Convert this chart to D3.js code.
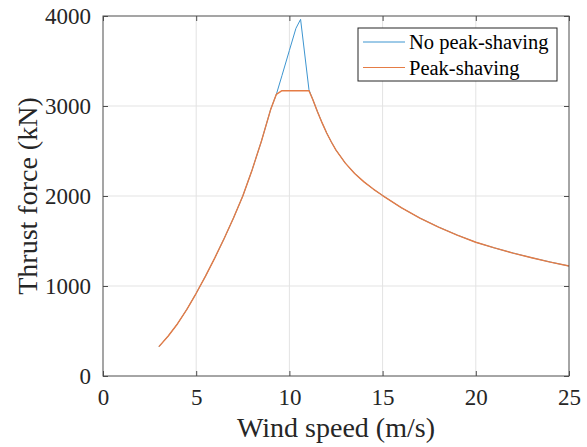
<!DOCTYPE html>
<html>
<head>
<meta charset="utf-8">
<script src="https://cdn.jsdelivr.net/npm/d3@7"></script>
<style>
  html, body { margin: 0; padding: 0; background: #fff; }
  svg { display: block; }
</style>
</head>
<body>
<svg id="thrust-plot"></svg>
<script>
// Wind speed samples (m/s)
const windSpeed = [3, 3.5, 4, 4.5, 5, 5.5, 6, 6.5, 7, 7.5, 8, 8.5, 9, 9.3, 9.6, 10, 10.35, 10.6,
  11.05, 11.25, 11.5, 11.75, 12, 12.25, 12.5, 13, 13.5, 14, 14.5, 15, 16, 17, 18, 19, 20, 21, 22, 23, 24, 25];

// Thrust force (kN) without peak-shaving
const noPeakShaving = [326, 444, 581, 741, 919, 1110, 1313, 1528, 1755, 2000, 2290, 2610, 2965, 3130,
  3337, 3618, 3863, 3963, 3180, 3075, 2940, 2815, 2700, 2600, 2510, 2365, 2250, 2157, 2077, 2005,
  1870, 1755, 1655, 1566, 1486, 1423, 1366, 1314, 1266, 1222];

// Thrust force (kN) with peak-shaving
const peakShaving = [326, 444, 581, 741, 919, 1110, 1313, 1528, 1755, 2000, 2290, 2610, 2965, 3130,
  3170, 3170, 3170, 3170, 3170, 3075, 2940, 2815, 2700, 2600, 2510, 2365, 2250, 2157, 2077, 2005,
  1870, 1755, 1655, 1566, 1486, 1423, 1366, 1314, 1266, 1222];

const xTicks = [0, 5, 10, 15, 20, 25];
const yTicks = [0, 1000, 2000, 3000, 4000];

const seriesNames = ['No peak-shaving', 'Peak-shaving'];
const seriesColors = ['#3d95d0', '#e57c45'];
const seriesWidths = [1, 1.4];

// Figure size and axes box
const width = 587;
const height = 447;
const margin = { top: 16, right: 18, bottom: 71, left: 103 };
const plotWidth = width - margin.left - margin.right;
const plotHeight = height - margin.top - margin.bottom;
const serif = '"Liberation Serif"';

const xScale = d3.scaleLinear().domain([0, 25]).range([0, plotWidth]);
const yScale = d3.scaleLinear().domain([0, 4000]).range([plotHeight, 0]);

const svg = d3.select('#thrust-plot')
  .attr('width', width)
  .attr('height', height);

svg.append('rect')
  .attr('width', width)
  .attr('height', height)
  .attr('fill', '#fff');

const plot = svg.append('g')
  .attr('transform', `translate(${margin.left}, ${margin.top})`);

// Grid lines
plot.append('g')
  .selectAll('line')
  .data(xTicks.slice(1, -1))
  .join('line')
  .attr('x1', (d) => xScale(d))
  .attr('x2', (d) => xScale(d))
  .attr('y1', 0)
  .attr('y2', plotHeight)
  .attr('stroke', '#e3e3e3')
  .attr('stroke-width', 1);

plot.append('g')
  .selectAll('line')
  .data(yTicks.slice(1, -1))
  .join('line')
  .attr('x1', 0)
  .attr('x2', plotWidth)
  .attr('y1', (d) => yScale(d))
  .attr('y2', (d) => yScale(d))
  .attr('stroke', '#e3e3e3')
  .attr('stroke-width', 1);

// Lines for both series (orange drawn on top, slightly wider so it covers blue)
const line = d3.line()
  .x((d) => xScale(d[0]))
  .y((d) => yScale(d[1]));

[noPeakShaving, peakShaving].forEach((values, i) => {
  plot.append('path')
    .datum(windSpeed.map((v, j) => [v, values[j]]))
    .attr('fill', 'none')
    .attr('stroke', seriesColors[i])
    .attr('stroke-width', seriesWidths[i])
    .attr('stroke-linejoin', 'round')
    .attr('d', line);
});

// Axes with inward ticks (MATLAB style box)
const tickColor = '#4d4d4d';
const styleAxis = (g) => {
  g.select('.domain').remove();
  g.selectAll('.tick line').attr('stroke', tickColor);
  g.selectAll('.tick text')
    .attr('fill', '#262626')
    .style('font-family', serif)
    .style('font-size', '23px');
};

plot.append('g')
  .attr('transform', `translate(0, ${plotHeight})`)
  .call(d3.axisBottom(xScale).tickValues(xTicks).tickFormat(d3.format('d'))
    .tickSizeInner(-5).tickSizeOuter(0).tickPadding(13))
  .call(styleAxis);

plot.append('g')
  .call(d3.axisTop(xScale).tickValues(xTicks).tickSizeInner(-5).tickSizeOuter(0).tickFormat(''))
  .call(styleAxis);

plot.append('g')
  .call(d3.axisLeft(yScale).tickValues(yTicks).tickFormat(d3.format('d'))
    .tickSizeInner(-5).tickSizeOuter(0).tickPadding(12))
  .call(styleAxis);

plot.append('g')
  .attr('transform', `translate(${plotWidth}, 0)`)
  .call(d3.axisRight(yScale).tickValues(yTicks).tickSizeInner(-5).tickSizeOuter(0).tickFormat(''))
  .call(styleAxis);

plot.append('rect')
  .attr('width', plotWidth)
  .attr('height', plotHeight)
  .attr('fill', 'none')
  .attr('stroke', tickColor)
  .attr('stroke-width', 1);

// Axis labels
svg.append('text')
  .text('Wind speed (m/s)')
  .attr('x', margin.left + plotWidth / 2)
  .attr('y', 437)
  .attr('text-anchor', 'middle')
  .attr('fill', '#262626')
  .style('font-family', serif)
  .style('font-size', '28px');

svg.append('text')
  .text('Thrust force (kN)')
  .attr('transform', `translate(37, ${margin.top + plotHeight / 2}) rotate(-90)`)
  .attr('text-anchor', 'middle')
  .attr('fill', '#262626')
  .style('font-family', serif)
  .style('font-size', '28px');

// Legend
const legend = plot.append('g')
  .attr('transform', `translate(${358 - margin.left}, ${28 - margin.top})`);

legend.append('rect')
  .attr('width', 199)
  .attr('height', 53)
  .attr('fill', '#fff')
  .attr('stroke', '#262626')
  .attr('stroke-width', 1);

seriesNames.forEach((name, i) => {
  const y = 14 + i * 25.5;
  legend.append('line')
    .attr('x1', 5)
    .attr('x2', 47)
    .attr('y1', y)
    .attr('y2', y)
    .attr('stroke', seriesColors[i])
    .attr('stroke-width', 1);
  legend.append('text')
    .text(name)
    .attr('x', 51)
    .attr('y', y + 7)
    .attr('fill', '#000')
    .style('font-family', serif)
    .style('font-size', '20.5px');
});
</script>
</body>
</html>
